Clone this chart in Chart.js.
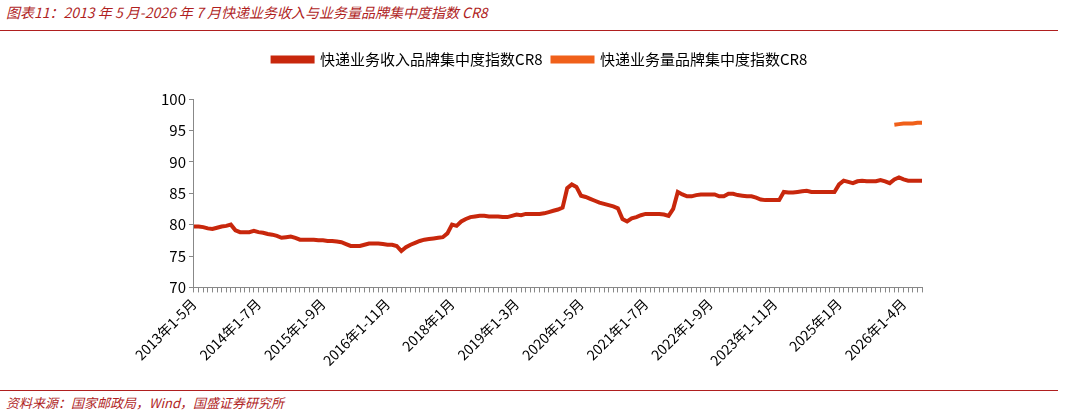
<!DOCTYPE html>
<html><head><meta charset="utf-8">
<script src="https://cdn.jsdelivr.net/npm/chart.js@4/dist/chart.umd.min.js"></script>
<style>
body{margin:0;width:1065px;height:415px;background:#fff;position:relative;overflow:hidden;font-family:"Noto Sans CJK SC","Noto Sans",sans-serif}
#title{position:absolute;left:6px;top:2px;font-size:14px;font-style:italic;color:#b01f1f}
#source{position:absolute;left:6px;top:393px;font-size:13px;font-style:italic;color:#b01f1f}
.rule{position:absolute;left:0;width:1058px;height:1px;background:#b01f1f}
#wrap{position:absolute;left:0;top:42px;width:1065px;height:330px}
</style></head><body>
<div id="title">图表11：2013 年 5 月-2026 年 7 月快递业务收入与业务量品牌集中度指数 CR8</div>
<div class="rule" style="top:30px"></div>
<div id="wrap"><canvas id="c"></canvas></div>
<div class="rule" style="top:390px"></div>
<div id="source">资料来源：国家邮政局，Wind，国盛证券研究所</div>
<script>
// monthly, 2013-05 .. 2026-07
const startYear = 2013, startMonth = 5, monthCount = 159;
const incomeCR8 = [
79.7,79.7,79.6,79.4,79.3,79.5,79.7,79.8,80.0,79.1,
78.8,78.8,78.8,79.0,78.8,78.7,78.5,78.4,78.2,77.9,
78.0,78.1,77.9,77.6,77.6,77.6,77.6,77.5,77.5,77.4,
77.4,77.3,77.2,76.9,76.6,76.6,76.6,76.8,77.0,77.0,
77.0,76.9,76.8,76.8,76.6,75.8,76.4,76.8,77.1,77.4,
77.6,77.7,77.8,77.9,78.0,78.6,80.0,79.8,80.5,80.9,
81.2,81.3,81.4,81.4,81.3,81.3,81.3,81.2,81.2,81.4,
81.6,81.5,81.7,81.7,81.7,81.7,81.8,82.0,82.2,82.4,
82.7,85.8,86.4,86.0,84.6,84.4,84.1,83.8,83.5,83.3,
83.1,82.9,82.6,80.9,80.5,81.0,81.2,81.5,81.7,81.7,
81.7,81.7,81.6,81.4,82.5,85.2,84.8,84.5,84.5,84.7,
84.8,84.8,84.8,84.8,84.5,84.5,84.9,84.9,84.7,84.6,
84.5,84.5,84.3,84.0,83.9,83.9,83.9,83.9,85.2,85.1,
85.1,85.2,85.3,85.4,85.2,85.2,85.2,85.2,85.2,85.2,
86.4,87.0,86.8,86.6,86.9,87.0,86.9,86.9,86.9,87.1,
86.9,86.6,87.2,87.5,87.2,87.0,87.0,87.0,87.0];
// volume CR8 only from 2026-01
const volumeStart = 152;
const volumeCR8 = [95.9,96.0,96.1,96.1,96.1,96.2,96.2];
const shownTicks = ['2013年1-5月','2014年1-7月','2015年1-9月','2016年1-11月','2018年1月','2019年1-3月',
  '2020年1-5月','2021年1-7月','2022年1-9月','2023年1-11月','2025年1月','2026年1-4月'];
const tickEvery = 14;

const labels = [];
for (let i = 0; i < monthCount; i++) {
    const m = startMonth - 1 + i;
    labels.push((startYear + Math.floor(m / 12)) + '-' + (m % 12 + 1));
}
const volumeData = Array(monthCount).fill(null);
volumeCR8.forEach((v, k) => volumeData[volumeStart + k] = v);

const font = { family: '"Noto Sans CJK SC", sans-serif', size: 14 };
// extra space under the legend
const legendGap = { id: 'legendGap', beforeInit(chart) {
    const fit = chart.legend.fit;
    chart.legend.fit = function () { fit.bind(chart.legend)(); this.height += 22; };
} };
new Chart(document.getElementById('c'), {
    type: 'line',
    data: { labels, datasets: [
        { label: '快递业务收入品牌集中度指数CR8', data: incomeCR8, borderColor: '#c8270c', backgroundColor: '#c8270c', borderWidth: 4, pointRadius: 0, tension: 0 },
        { label: '快递业务量品牌集中度指数CR8', data: volumeData, borderColor: '#f0601a', backgroundColor: '#f0601a', borderWidth: 4, pointRadius: 0, tension: 0 }
    ]},
    plugins: [legendGap],
    options: {
        responsive: true, maintainAspectRatio: false, animation: false,
        layout: { padding: { left: 158, right: 143, top: 0, bottom: 0 } },
        plugins: {
            legend: { labels: { boxWidth: 40, boxHeight: 4, color: '#000', font: { family: font.family, size: 15 }, padding: 10 } },
            tooltip: { enabled: false }
        },
        scales: {
            x: {
                offset: false,
                grid: { drawOnChartArea: false, color: '#888', tickLength: 5 },
                border: { color: '#888' },
                ticks: { autoSkip: false, maxRotation: 45, minRotation: 45, color: '#000', font,
                    callback: (v, i) => i % tickEvery === 0 ? shownTicks[i / tickEvery] : '' }
            },
            y: {
                min: 70, max: 100,
                grid: { drawOnChartArea: false, color: '#888', tickLength: 5 },
                border: { color: '#888' },
                ticks: { stepSize: 5, color: '#000', font: { family: font.family, size: 15 } }
            }
        }
    }
});
</script>
</body></html>
